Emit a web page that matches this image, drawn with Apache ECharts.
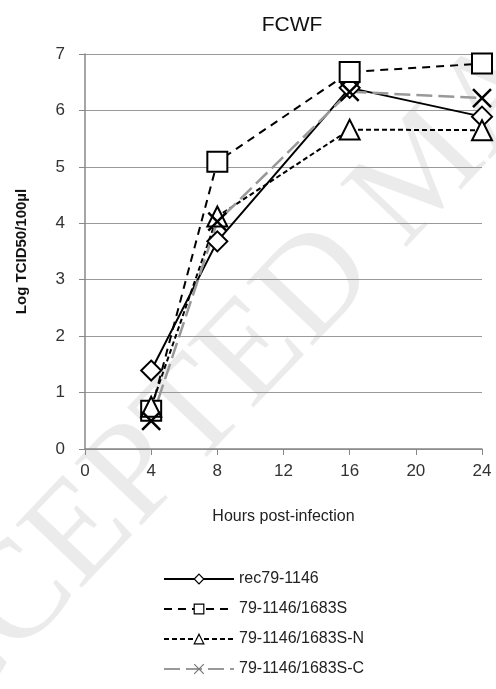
<!DOCTYPE html>
<html><head><meta charset="utf-8">
<script src="https://cdn.jsdelivr.net/npm/echarts@6/dist/echarts.min.js"></script>
<style>html,body{margin:0;padding:0;background:#fff}#c{width:496px;height:689px}</style>
</head><body><div id="c"></div>
<script>
const hours = [4, 8, 16, 24];
const seriesNames = ['rec79-1146', '79-1146/1683S', '79-1146/1683S-N', '79-1146/1683S-C'];
const rec79 = [1.39, 3.68, 6.40, 5.89];
const s1683S = [0.68, 5.09, 6.68, 6.83];
const s1683SN = [0.75, 4.12, 5.66, 5.65];
const s1683SC = [0.50, 4.03, 6.33, 6.22];
const xTicks = [0, 4, 8, 12, 16, 20, 24];
const yTicks = [0, 1, 2, 3, 4, 5, 6, 7];

const F = 'Liberation Sans, Arial, sans-serif';
const xSym = 'path://M0,0L10,10M10,0L0,10';
function pts(v){ return hours.map((h,i)=>[h, v[i]]); }
function mk(name, data, sym, size, lineColor, dash, width){
  return {
    name, type:'line', data: pts(data), symbol: sym, symbolSize: size,
    lineStyle:{color: lineColor, width: width, type: dash},
    itemStyle:{color:'#fff', borderColor:'#000', borderWidth:2},
    emphasis:{disabled:true}, z: 3
  };
}
const legendData = seriesNames.map((n,i)=> i===3
  ? {name:n, itemStyle:{borderColor:'#777', borderWidth:1.2}}
  : {name:n, itemStyle:{borderWidth:1.2}});
const chart = echarts.init(document.getElementById('c'));
chart.setOption({
  animation:false,
  backgroundColor:'#fff',
  title:{text:'FCWF', left:287, top:10, textAlign:'center',
    textStyle:{fontFamily:F, fontSize:21, fontWeight:'normal', color:'#111'}},
  grid:{left:85, right:14, top:54, bottom:240, containLabel:false},
  xAxis:{type:'value', min:0, max:24, interval:4,
    name:'Hours post-infection', nameLocation:'middle', nameGap:60,
    nameTextStyle:{fontFamily:F, fontSize:16, color:'#222'},
    axisLine:{show:true, lineStyle:{color:'#888', width:1.5}},
    axisTick:{show:true, length:6, lineStyle:{color:'#888'}},
    axisLabel:{fontFamily:F, fontSize:17, color:'#333', margin:14, formatter: v=> xTicks.includes(v)? String(v):''},
    splitLine:{show:false}},
  yAxis:{type:'value', min:0, max:7, interval:1,
    name:'Log TCID50/100µl', nameLocation:'middle', nameGap:56,
    nameTextStyle:{fontFamily:F, fontSize:15, fontWeight:'bold', color:'#111'},
    axisLine:{show:true, lineStyle:{color:'#888', width:1.5}},
    axisTick:{show:true, length:6, lineStyle:{color:'#888'}},
    axisLabel:{fontFamily:F, fontSize:17, color:'#333', margin:20, formatter: v=> yTicks.includes(v)? String(v):''},
    splitLine:{show:true, lineStyle:{color:'#999', width:1.2}}},
  legend:{orient:'vertical', left:158, top:566, bottom:0, itemWidth:70, itemHeight:12, itemGap:14,
    textStyle:{fontFamily:F, fontSize:16, color:'#222'},
    data: legendData},
  graphic:[{type:'text', x:-146, y:774, rotation:0.81, z:-10, silent:true,
    style:{text:'ACCEPTED MANUSCRIPT', font:'140px "Liberation Serif", serif', fill:'rgba(0,0,0,0.08)', verticalAlign:'middle'}}],
  series:[
    mk(seriesNames[0], rec79, 'diamond', 20, '#000', 'solid', 2),
    mk(seriesNames[1], s1683S, 'rect', 20, '#000', [8,6], 2),
    mk(seriesNames[2], s1683SN, 'triangle', 20, '#000', [5,3], 2),
    Object.assign(mk(seriesNames[3], s1683SC, xSym, 18, '#999', [16,6], 2.5),
      {itemStyle:{color:'none', borderColor:'#000', borderWidth:2.5}})
  ]
});
</script></body></html>
